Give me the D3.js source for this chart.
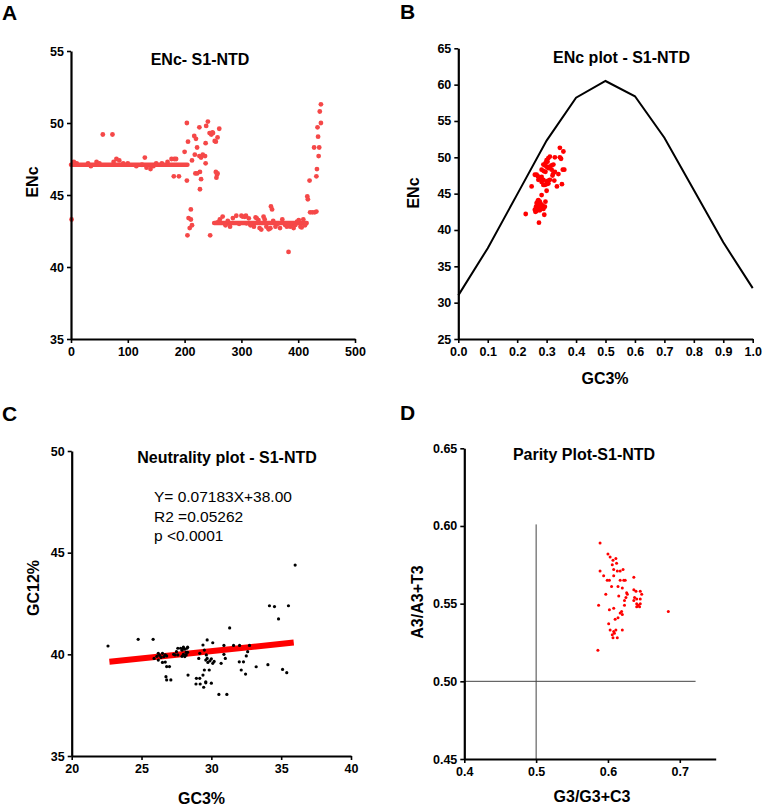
<!DOCTYPE html>
<html>
<head>
<meta charset="utf-8">
<script src="https://cdn.jsdelivr.net/npm/d3@7"></script>
<style>
  html, body { margin: 0; padding: 0; background: #fff; }
  svg { display: block; font-family: Arial, "Liberation Sans", sans-serif; }
</style>
</head>
<body>
<svg id="chart" width="765" height="806"></svg>
<script>
// ---------- DATA ----------
// Panel A: ENc along positions
const aTicksX = [0, 100, 200, 300, 400, 500];
const aTicksY = [35, 40, 45, 50, 55];
const aBand1 = [[0, 47.1], [205, 47.1]];
const aBand2 = [[252, 43.05], [415, 43.05]];
const aPoints = [
  [1,43.3],[56,49.2],[73,49.2],
  [5,47.3],[10,47.2],[30,47.2],[35,47.0],[45,47.3],[50,47.2],[75,47.3],[80,47.5],[85,47.4],[92,47.2],[100,47.2],
  [115,47.0],[125,47.1],[130,47.6],[133,46.9],[140,46.8],[145,47.0],[150,47.2],[160,47.2],[170,47.3],[177,47.5],[182,47.5],[185,47.5],
  [181,46.3],[190,46.3],
  [200,48.0],[204,50.0],[204,46.0],[206,48.7],
  [211,44.0],[211,43.3],[213,42.9],[209,42.7],[205,42.2],[207,43.4],
  [217,49.1],[220,48.9],[218,47.8],[222,48.3],[213,47.4],[219,46.5],[226,49.7],[226,47.7],[229,47.6],[232,47.8],[236,47.7],
  [222,46.5],[227,46.6],[229,46.1],[227,45.4],[237,47.2],[237,48.6],[241,50.1],[238,49.8],
  [244,49.3],[247,49.2],[249,49.35],[250,49.3],[253,48.75],[255,48.7],[258,49.0],[261,49.6],
  [245,42.2],[255,46.6],[257,46.4],[256,46.2],[258,46.5],
  [258,43.1],[262,43.3],[267,43.5],[272,42.9],[276,43.2],[280,42.8],[285,43.4],[291,43.56],[296,43.0],[300,43.56],
  [302,43.5],[306,43.49],[308,43.56],[309,43.03],[313,43.38],[316,42.9],[320,42.92],[322,42.8],[325,43.44],[327,43.38],
  [330,43.26],[332,42.7],[335,42.6],[339,43.49],[341,43.3],[344,42.8],[348,42.62],[351,42.69],[352,44.2],[354,44.0],
  [356,43.2],[360,42.8],[364,43.0],[368,42.7],[372,43.3],[377,42.92],[380,42.8],[383,41.05],[383,43.03],[386,42.8],
  [389,42.97],[392,42.7],[395,42.92],[398,43.15],[401,43.26],[404,42.8],[406,42.75],[409,43.3],[412,42.9],
  [416,44.9],[417,44.7],[420,46.0],[421,43.8],[425,43.8],[429,43.8],[432,43.85],[432,46.3],[433,46.8],
  [428,48.3],[437,48.3],[436,47.7],[435,49.05],[434,49.7],[440,50.0],[438,50.8],[440,51.3]
];

// Panel B: ENc plot (expected curve + observed)
const bTicksX = [0, 0.1, 0.2, 0.3, 0.4, 0.5, 0.6, 0.7, 0.8, 0.9, 1.0];
const bTicksY = [25, 30, 35, 40, 45, 50, 55, 60, 65];
const bCurveGC3 = [0, 0.1, 0.2, 0.3, 0.4, 0.5, 0.6, 0.7, 0.8, 0.9, 1.0];
const bCurveENc = [31.0, 37.5, 44.9, 52.3, 58.2, 60.5, 58.4, 52.7, 45.5, 38.3, 32.0];
const bPoints = [
  [0.229,42.2],[0.249,46.0],[0.274,41.0],[0.292,42.1],[0.345,51.3],[0.357,50.8],[0.345,50.0],[0.349,49.8],[0.328,50.0],
  [0.360,48.3],[0.355,48.3],[0.340,47.7],[0.352,46.3],[0.335,46.0],
  [0.311,50.1],[0.306,49.9],[0.300,49.6],[0.303,49.4],[0.296,49.2],[0.289,49.0],[0.294,48.9],[0.300,48.7],[0.306,48.5],
  [0.283,48.3],[0.290,48.1],[0.296,48.0],[0.311,48.7],[0.317,48.9],[0.323,49.0],[0.317,48.3],[0.323,47.8],[0.328,48.0],
  [0.320,47.5],[0.266,47.6],[0.260,47.6],[0.270,47.4],[0.277,47.1],[0.283,47.3],[0.272,46.9],[0.289,46.9],[0.283,46.6],
  [0.300,46.7],[0.306,46.8],[0.311,46.9],[0.294,46.2],[0.289,46.2],[0.300,46.3],[0.306,46.4],[0.326,46.8],[0.300,45.4],
  [0.283,44.8],
  [0.272,44.1],[0.277,43.9],[0.266,43.7],[0.275,43.5],[0.264,43.2],[0.272,43.0],[0.283,43.2],[0.289,42.9],[0.260,42.8],
  [0.266,42.6],[0.277,42.7],[0.294,43.2],[0.296,43.9],[0.270,44.0],[0.280,43.6],[0.262,42.5],[0.286,43.4]
];

// Panel C: Neutrality plot
const cTicksX = [20, 25, 30, 35, 40];
const cTicksY = [35, 40, 45, 50];
const cFitRange = [22.7, 35.9];
const cSlope = 0.07183, cIntercept = 38.00;
const cStats = ["Y= 0.07183X+38.00", "R2 =0.05262", "p <0.0001"];
const cPoints = [
  [22.6,40.41],[24.76,40.74],[25.83,40.74],[31.31,41.30],[34.16,42.39],[34.52,42.35],[35.52,42.39],[34.81,41.74],[36.0,44.39],
  [25.9,39.8],[26.1,39.9],[26.2,40.05],[26.3,39.95],[26.4,39.85],[26.2,39.72],[26.5,40.05],[26.6,39.89],[26.7,39.98],
  [26.8,39.92],[26.5,39.6],[26.7,39.62],[26.8,39.4],[27.0,39.4],[26.75,38.9],[26.8,38.74],[27.1,38.74],
  [27.3,40.0],[27.5,40.13],[27.6,40.3],[27.8,40.3],[27.9,40.2],[28.0,40.3],[28.1,40.25],[28.2,40.1],[28.0,40.0],
  [28.1,39.89],[28.2,39.97],[28.3,40.1],[27.9,39.9],[27.6,39.97],[27.4,39.97],[28.25,40.3],[28.3,40.35],[28.0,40.35],
  [29.17,40.05],[29.4,40.46],[29.5,40.21],[29.64,39.97],[29.7,40.71],[30.1,40.57],[29.1,39.8],[29.6,39.72],[29.75,39.6],
  [29.9,39.68],[30.0,39.78],[30.2,39.65],[30.1,39.56],[29.7,39.8],[29.5,39.23],[29.85,39.23],[28.33,38.98],[28.93,38.82],
  [29.17,38.82],[29.4,38.98],[29.6,38.6],[28.9,38.54],[29.2,38.54],[29.6,38.65],[29.45,38.38],[30.0,38.58],[30.54,38.03],
  [31.11,38.03],
  [30.9,40.44],[31.59,40.44],[32.02,40.44],[32.73,40.44],[30.9,40.0],[32.6,40.13],[32.5,39.92],[31.0,39.8],[32.0,39.63],
  [32.3,39.63],[30.7,39.56],[32.14,39.23],[32.45,39.03],[33.21,39.39],[34.05,39.49],[35.1,39.26],[35.4,39.1]
];

// Panel D: Parity plot
const dTicksX = [0.4, 0.5, 0.6, 0.7];
const dTicksY = [0.45, 0.50, 0.55, 0.60, 0.65];
const dRefX = 0.5, dRefXTop = 0.601;
const dRefY = 0.5, dRefYRight = 0.722;
const dPoints = [
  [0.589,0.589],[0.586,0.520],[0.587,0.549],[0.684,0.545],
  [0.600,0.582],[0.603,0.580],[0.607,0.578],[0.611,0.579],[0.612,0.576],[0.606,0.575],
  [0.589,0.571],[0.594,0.568],[0.599,0.565],[0.602,0.565],[0.597,0.556],
  [0.605,0.561],[0.608,0.568],[0.608,0.572],[0.613,0.571],[0.617,0.571],[0.621,0.572],
  [0.614,0.561],[0.617,0.565],[0.622,0.565],[0.624,0.565],[0.626,0.557],[0.625,0.554],[0.623,0.552],[0.627,0.556],
  [0.623,0.549],[0.619,0.545],[0.620,0.543],[0.602,0.546],[0.608,0.547],
  [0.610,0.540],[0.614,0.541],[0.617,0.544],
  [0.601,0.537],[0.603,0.533],[0.608,0.532],[0.611,0.533],[0.606,0.530],[0.609,0.531],[0.613,0.528],[0.607,0.528],[0.620,0.533],
  [0.636,0.567],[0.636,0.559],[0.639,0.558],[0.645,0.558],[0.637,0.554],[0.640,0.553],[0.645,0.553],[0.647,0.556],
  [0.636,0.552],[0.640,0.550],[0.645,0.550],[0.642,0.549],[0.644,0.548],[0.640,0.548],[0.620,0.560],[0.615,0.555]
];

// ---------- DRAWING ----------
const svg = d3.select("#chart");
const FONT = 'Arial, "Liberation Sans", sans-serif';

function drawAxes(x, y, tx, ty, fx, fy) {
  const g = svg.append("g");
  const xa = g.append("g").attr("transform", `translate(0,${y.range()[0]})`)
    .call(d3.axisBottom(x).tickValues(tx).tickFormat(fx).tickSize(4).tickPadding(4).tickSizeOuter(0));
  const ya = g.append("g").attr("transform", `translate(${x.range()[0]},0)`)
    .call(d3.axisLeft(y).tickValues(ty).tickFormat(fy).tickSize(4).tickPadding(3).tickSizeOuter(0));
  [xa, ya].forEach(a => {
    a.select(".domain").attr("stroke", "#000").attr("stroke-width", 2.2);
    a.selectAll(".tick line").attr("stroke", "#000").attr("stroke-width", 1.6);
    a.selectAll(".tick text").attr("fill", "#000").attr("font-size", 12.5)
      .attr("font-weight", "bold").attr("font-family", FONT);
  });
}
function text(x, y, s, opts = {}) {
  const t = svg.append("text").attr("x", x).attr("y", y).text(s)
    .attr("font-family", FONT).attr("font-size", opts.size || 16)
    .attr("font-weight", opts.weight || "bold").attr("fill", "#000")
    .attr("text-anchor", opts.anchor || "middle");
  if (opts.rotate) t.attr("x", 0).attr("y", 0).attr("transform", `translate(${x},${y}) rotate(-90)`);
  return t;
}

// Panel A
{
  const x = d3.scaleLinear([0, 500], [71, 355]);
  const y = d3.scaleLinear([35, 55], [339, 51]);
  const col = "#f54848";
  [aBand1, aBand2].forEach(seg => {
    svg.append("path").attr("d", d3.line().x(d => x(d[0])).y(d => y(d[1]))(seg))
      .attr("stroke", col).attr("stroke-width", 4.5).attr("fill", "none").attr("stroke-linecap", "round");
  });
  svg.append("g").selectAll("circle").data(aPoints).join("circle")
    .attr("cx", d => x(d[0])).attr("cy", d => y(d[1])).attr("r", 2.4).attr("fill", col);
  drawAxes(x, y, aTicksX, aTicksY, d3.format("d"), d3.format("d"));
  text(200, 64.5, "ENc- S1-NTD");
  text(38, 182, "ENc", { rotate: true });
  text(2, 20, "A", { size: 21, anchor: "start" });
}

// Panel B
{
  const x = d3.scaleLinear([0, 1], [458.3, 752.7]);
  const y = d3.scaleLinear([25, 65], [339, 48.3]);
  const curve = bCurveGC3.map((g, i) => [g, bCurveENc[i]]);
  svg.append("path").attr("d", d3.line().x(d => x(d[0])).y(d => y(d[1]))(curve))
    .attr("stroke", "#000").attr("stroke-width", 2).attr("fill", "none");
  svg.append("g").selectAll("circle").data(bPoints).join("circle")
    .attr("cx", d => x(d[0])).attr("cy", d => y(d[1])).attr("r", 2.4).attr("fill", "#f00");
  drawAxes(x, y, bTicksX, bTicksY, d3.format(".1f"), d3.format("d"));
  text(621.5, 62.8, "ENc plot - S1-NTD");
  text(419, 193, "ENc", { rotate: true });
  text(605, 384, "GC3%");
  text(400, 18.5, "B", { size: 21, anchor: "start" });
}

// Panel C
{
  const x = d3.scaleLinear([20, 40], [71.7, 351]);
  const y = d3.scaleLinear([35, 50], [756, 451]);
  const fit = cFitRange.map(v => [v, cSlope * v + cIntercept]);
  svg.append("path").attr("d", d3.line().x(d => x(d[0])).y(d => y(d[1]))(fit))
    .attr("stroke", "#f00").attr("stroke-width", 6).attr("fill", "none");
  svg.append("g").selectAll("circle").data(cPoints).join("circle")
    .attr("cx", d => x(d[0])).attr("cy", d => y(d[1])).attr("r", 1.6).attr("fill", "#000");
  drawAxes(x, y, cTicksX, cTicksY, d3.format("d"), d3.format("d"));
  text(227, 462.8, "Neutrality plot - S1-NTD");
  cStats.forEach((s, i) => text(154, 502 + i * 19.5, s, { size: 15.5, weight: "normal", anchor: "start" }));
  text(39, 588, "GC12%", { rotate: true });
  text(201.5, 804, "GC3%");
  text(2, 421, "C", { size: 21, anchor: "start" });
}

// Panel D
{
  const x = d3.scaleLinear([0.4, 0.75], [464.3, 715.7]);
  const y = d3.scaleLinear([0.45, 0.65], [759, 448.3]);
  svg.append("line").attr("x1", x(dRefX)).attr("x2", x(dRefX)).attr("y1", y(0.45)).attr("y2", y(dRefXTop))
    .attr("stroke", "#444").attr("stroke-width", 1);
  svg.append("line").attr("x1", x(0.4)).attr("x2", x(dRefYRight)).attr("y1", y(dRefY)).attr("y2", y(dRefY))
    .attr("stroke", "#444").attr("stroke-width", 1);
  svg.append("g").selectAll("circle").data(dPoints).join("circle")
    .attr("cx", d => x(d[0])).attr("cy", d => y(d[1])).attr("r", 1.5).attr("fill", "#f00");
  drawAxes(x, y, dTicksX, dTicksY, d3.format(".1f"), d3.format(".2f"));
  text(584, 459.8, "Parity Plot-S1-NTD");
  text(423, 602, "A3/A3+T3", { rotate: true });
  text(592, 802, "G3/G3+C3");
  text(400, 420, "D", { size: 21, anchor: "start" });
}
</script>
</body>
</html>
